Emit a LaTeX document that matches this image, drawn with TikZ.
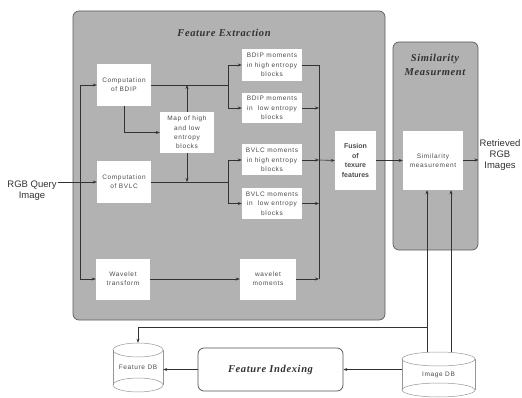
\documentclass[tikz,border=0pt]{standalone}
\usepackage{fontspec}
\setmainfont{Liberation Serif}
\setsansfont{Liberation Sans}
\newfontfamily\boxfont{Liberation Sans}[LetterSpace=10]
\newfontfamily\titlefont{Liberation Serif}[LetterSpace=6]
\usetikzlibrary{arrows.meta}
\definecolor{panel}{RGB}{178,178,178}
\definecolor{ink}{RGB}{50,50,50}
\definecolor{txt}{RGB}{75,75,75}
\definecolor{cylc}{RGB}{150,150,150}
\begin{document}
\begin{tikzpicture}[x=1pt,y=-1pt,
  box/.style={fill=white, inner sep=0pt, align=center, text=txt,
    font=\boxfont\fontsize{6.5}{9.3}\selectfont},
  panelbox/.style={draw=ink!80, fill=panel, line width=0.7pt, rounded corners=6pt},
  ttl/.style={text=ink, align=center, font=\titlefont\bfseries\itshape\fontsize{10.5}{14}\selectfont},
  lbl/.style={text=ink, align=center, inner sep=1pt, font=\sffamily\fontsize{9.5}{11}\selectfont},
  line/.style={draw=ink, line width=0.6pt},
  conn/.style={line, -{Stealth[length=4pt,width=3pt]}},
  cyl/.style={draw=cylc, line width=0.5pt}
]
\useasboundingbox (0,0) rectangle (522,398);

% panels
\path[panelbox] (73,11) rectangle (385,320);
\path[panelbox] (393,42) rectangle (478,250);
\node[ttl] (fet) at (224,33) {Feature Extraction};
\node[ttl] (smt) at (435,65) {Similarity\\Measurment};

% boxes
\node[box, minimum width=54pt, minimum height=42pt] (cb) at (124,85) {Computation\\of BDIP};
\node[box, minimum width=54pt, minimum height=41pt] (map) at (187,132.5) {Map of high\\and low\\entropy\\blocks};
\node[box, minimum width=54pt, minimum height=42pt] (cv) at (124,182) {Computation\\of BVLC};
\node[box, minimum width=54pt, minimum height=41pt] (wt) at (123,279) {Wavelet\\transform};
\node[box, minimum width=56pt, minimum height=41pt] (wm) at (268,279) {wavelet\\moments};
\node[box, minimum width=60pt, minimum height=32pt] (bh) at (272,65) {BDIP moments\\in high entropy\\blocks};
\node[box, minimum width=60pt, minimum height=30pt] (bl) at (272,108) {BDIP moments\\in\ \ low entropy\\blocks};
\node[box, minimum width=60pt, minimum height=31pt] (vh) at (272,160) {BVLC moments\\in high entropy\\blocks};
\node[box, minimum width=60pt, minimum height=31pt] (vl) at (272,203.5) {BVLC moments\\in\ \ low entropy\\blocks};
\node[box, minimum width=41pt, minimum height=59pt, font=\sffamily\bfseries\fontsize{7}{9.5}\selectfont] (fu) at (355.5,160.5) {Fusion\\of\\texure\\features};
\node[box, minimum width=60pt, minimum height=59pt] (sim) at (433,160.5) {Similarity\\measurement};

% outside labels
\node[lbl] (rgb) at (32,191) {RGB Query\\Image};
\node[lbl] (ret) at (500,155) {Retrieved\\RGB\\Images};

% bottom
\node[draw=ink!85, line width=0.7pt, rounded corners=6pt, minimum width=145pt, minimum height=43pt,
  font=\titlefont\bfseries\itshape\fontsize{10.5}{12}\selectfont, text=ink] (fi) at (270.5,369.5) {Feature Indexing};

\fill[white] (402,359) -- (402,390) arc[start angle=180, end angle=360, x radius=36.5, y radius=7] -- (475,359) -- cycle;
\draw[cyl] (402,359) -- (402,390) (475,359) -- (475,390);
\draw[cyl] (438.5,359) ellipse [x radius=36.5, y radius=7];
\draw[cyl] (438.5,390) ellipse [x radius=36.5, y radius=7];
\node[inner sep=0pt, minimum width=73pt, minimum height=45pt, text=txt,
  font=\boxfont\fontsize{6.5}{8}\selectfont] (idb) at (438.5,375) {Image DB};

\draw[cyl] (113,350) -- (113,385) (163,350) -- (163,385);
\draw[cyl] (138,350) ellipse [x radius=25, y radius=7];
\draw[cyl] (138,385) ellipse [x radius=25, y radius=7];
\node[inner sep=0pt, minimum width=50pt, minimum height=49pt, text=txt,
  font=\boxfont\fontsize{6.5}{8}\selectfont] (fdb) at (138,367.5) {Feature DB};

% left connections
\coordinate (j) at (80,182);
\draw[conn] (rgb.east |- cv.west) -- (cv.west);
\draw[conn] (j) |- (cb.west);
\draw[conn] (j) |- (wt.west);

\coordinate (b1) at (228,85);
\coordinate (b2) at (228,182);
\draw[line] (cb.east) -- (b1);
\draw[conn] (b1) |- (bh.west);
\draw[conn] (b1) |- (bl.west);
\draw[conn] (cb.south) |- (map.west);
\draw[conn] (map.north) -- (map.north |- b1);
\draw[conn] (map.south) -- (map.south |- b2);
\draw[line] (cv.east) -- (b2);
\draw[conn] (b2) |- (vh.west);
\draw[conn] (b2) |- (vl.west);
\draw[conn] (wt.east) -- (wm.west);

% right collection
\coordinate (cx) at (319,160);
\draw[line] (bh.east) -| (cx |- wm.east);
\draw[conn] (bl.east) -- (bl.east -| cx);
\draw[conn] (vh.east) -- (cx);
\draw[conn] (vl.east) -- (vl.east -| cx);
\draw[conn] (wm.east) -- (wm.east -| cx);
\draw[conn] (cx) -- (fu.west);
\draw[conn] (fu.east) -- (sim.west);
\draw[conn] (sim.east |- 0,160) -- (ret.west |- 0,160);

% database connections
\draw[conn] ([xshift=-11.5pt]idb.north) -- ([xshift=-11.5pt]idb.north |- sim.south);
\draw[conn] ([xshift=12.5pt]idb.north) -- ([xshift=12.5pt]idb.north |- sim.south);
\coordinate (bt) at (427,327);
\draw[conn] (bt) -| (fdb.north);
\draw[conn] (idb.west |- fi.east) -- (fi.east);
\draw[conn] (fi.west) -- (fi.west -| fdb.east);
\end{tikzpicture}
\end{document}
